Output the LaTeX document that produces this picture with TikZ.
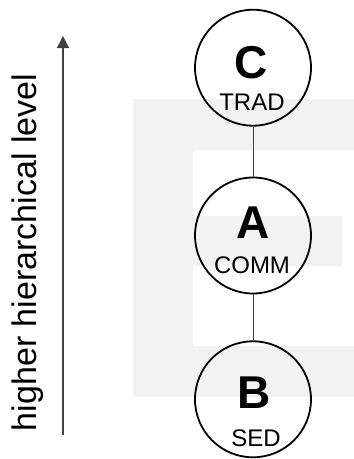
\documentclass[tikz,border=0pt]{standalone}
\usepackage{fontspec}
\setmainfont{Liberation Sans}
\usetikzlibrary{positioning,arrows.meta}

\definecolor{backgray}{gray}{0.95}
\definecolor{linegray}{gray}{0.25}

\tikzset{
  level/.style={circle, draw, line width=1.8pt, minimum size=116pt, inner sep=0pt},
  letter/.style={inner sep=0pt, font=\fontsize{46}{46}\selectfont\bfseries},
  abbrev/.style={inner sep=0pt, font=\fontsize{24}{24}\selectfont},
  link/.style={draw=linegray, line width=1pt}
}

\begin{document}
\begin{tikzpicture}[x=1pt, y=-1pt, node distance=48pt]
  \useasboundingbox (0,0) rectangle (354,459);

  % big pale E behind the levels
  \fill[backgray] (133,99) -- (354,99) -- (354,150) -- (193,150) -- (193,216)
    -- (342,216) -- (342,266) -- (193,266) -- (193,346) -- (354,346)
    -- (354,397) -- (133,397) -- cycle;

  \node[level] (comm) at (253,235.5) {};
  \node[level, above=50pt of comm] (trad) {};
  \node[level, below=46pt of comm] (sed) {};

  \node[letter] (c) at (251,62.5) {C};
  \node[abbrev] (tradtxt) at (252,102) {TRAD};
  \node[letter] (a) at (253,223) {A};
  \node[abbrev] (commtxt) at (252,265) {COMM};
  \node[letter] (b) at (254,393) {B};
  \node[abbrev] (sedtxt) at (256,438.5) {SED};

  \path[link] (trad) -- (comm);
  \path[link] (comm) -- (sed);

  % direction of the hierarchy
  \coordinate (low) at (63,435);
  \coordinate (high) at (63,36);
  \draw[linegray, line width=1.3pt, -{Stealth[length=12pt, width=12pt, inset=0pt]}] (low) -- (high);
  \node[rotate=90, inner sep=0pt, font=\fontsize{34}{34}\selectfont] (hier) at (28,252.5) {higher hierarchical level};
\end{tikzpicture}
\end{document}
